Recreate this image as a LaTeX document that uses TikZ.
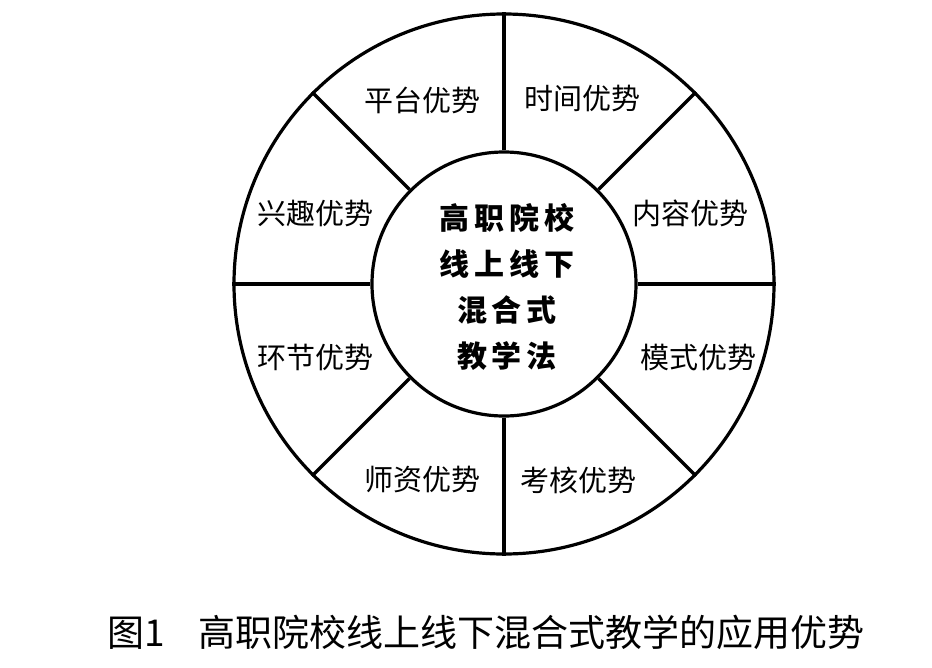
\documentclass[tikz,border=0pt]{standalone}
\usepackage{fontspec}
\newfontfamily\cjk{Noto Sans CJK SC}
\newfontfamily\cjkbold{Noto Sans CJK SC}[UprightFont={* Black}]
\begin{document}
\begin{tikzpicture}[x=1pt,y=-1pt,
  ring/.style={draw=black,line width=3.2pt},
  spoke/.style={draw=black,line width=3.2pt},
  seg/.style={font=\cjk\fontsize{29}{32}\selectfont,inner sep=0pt},
  hub/.style={font=\cjkbold\fontsize{30}{46}\selectfont,align=center,inner sep=0pt},
  captext/.style={font=\cjk\fontsize{37}{42}\selectfont,inner sep=0pt}]
\useasboundingbox (0,0) rectangle (932,667);
\coordinate (c) at (504,284);
\node[ring,circle,minimum size=540pt,inner sep=0pt] (outer) at (c) {};
\node[ring,circle,minimum size=264pt,inner sep=0pt] (inner) at (c) {};
\foreach \a in {0,45,...,315}{
  \draw[spoke] (inner.\a) -- (outer.\a);
}
\node[seg] (s1) at (422,100) {平台优势};
\node[seg] (s2) at (582,98) {时间优势};
\node[seg] (s3) at (690,213) {内容优势};
\node[seg] (s4) at (698,358) {模式优势};
\node[seg] (s5) at (578,480) {考核优势};
\node[seg] (s6) at (422,480) {师资优势};
\node[seg] (s7) at (315,357) {环节优势};
\node[seg] (s8) at (315,213) {兴趣优势};
\node[hub] (h) at (507,287) {高\,职\,院\,校\\线\,上\,线\,下\\混\,合\,式\\教\,学\,法};
\node[captext] (caption) at (486,632) {图1\hspace{0.9em}高职院校线上线下混合式教学的应用优势};
\end{tikzpicture}
\end{document}
